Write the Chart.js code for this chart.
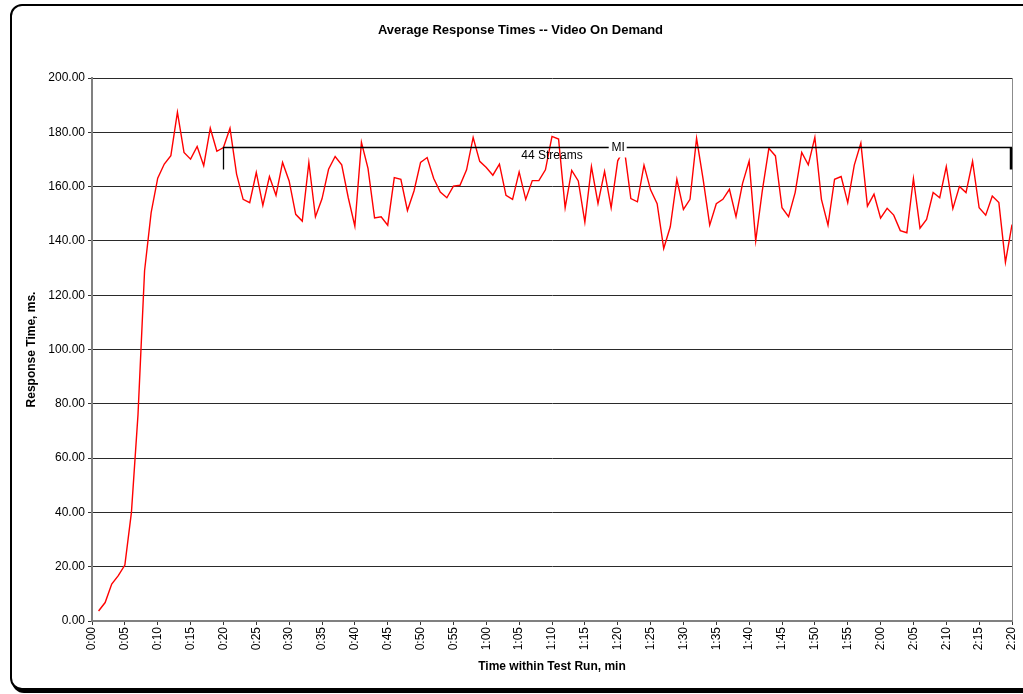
<!DOCTYPE html>
<html>
<head>
<meta charset="utf-8">
<title>Average Response Times -- Video On Demand</title>
<script src="https://cdn.jsdelivr.net/npm/chart.js@4.4.1/dist/chart.umd.min.js"></script>
<style>
  html, body { margin: 0; padding: 0; background: #fff; overflow: hidden; }
  #wrap { position: relative; width: 1023px; height: 694px; overflow: hidden; }
  .frame {
    position: absolute; left: 10px; top: 4px; width: 1030px; height: 686px;
    box-sizing: border-box; border: 2px solid #000; border-radius: 12px;
    box-shadow: 2px 3px 0 #000; background: #fff;
  }
  canvas { position: absolute; left: 0; top: 0; }
</style>
</head>
<body>
<div id="wrap">
  <div class="frame"></div>
  <canvas id="chart" width="1023" height="694"></canvas>
</div>
<script>
// Average response time per minute of the test run (ms), first sample at 0:01
const responseMs = [
  3.7, 6.8, 13.6, 16.7, 20.6, 40.0, 76.0, 129.0, 150.4, 163.1,
  168.3, 171.4, 187.4, 172.6, 170.1, 174.8, 167.7, 181.5, 173.0, 174.4,
  181.5, 164.6, 155.3, 154.1, 165.2, 153.1, 163.7, 156.8, 168.9, 162.1,
  149.8, 147.3, 168.9, 148.9, 155.5, 166.4, 171.1, 168.0, 155.9, 145.4,
  176.3, 166.7, 148.5, 148.9, 145.8, 163.3, 162.7, 151.2, 158.4, 168.9,
  170.7, 163.0, 158.0, 155.9, 160.2, 160.5, 166.2, 178.1, 169.3, 167.0,
  164.2, 168.3, 156.8, 155.3, 165.4, 155.3, 162.2, 162.2, 166.2, 178.5,
  177.5, 152.2, 166.0, 162.1, 146.9, 167.4, 153.8, 165.6, 152.2, 169.5,
  174.0, 155.6, 154.4, 167.9, 158.8, 153.7, 137.2, 145.2, 162.7, 151.6,
  155.3, 177.8, 162.7, 145.8, 153.7, 155.3, 159.0, 148.9, 161.2, 169.4,
  140.0, 158.4, 174.1, 171.3, 152.2, 148.9, 157.8, 172.6, 168.0, 178.1,
  155.3, 145.8, 162.7, 163.7, 154.1, 167.9, 176.0, 152.8, 157.2, 148.4,
  152.0, 149.5, 143.8, 143.0, 163.0, 144.7, 147.9, 157.8, 155.9, 167.4,
  151.9, 160.0, 157.8, 169.3, 152.2, 149.5, 156.5, 154.1, 132.1, 146.0
];

// x-axis tick labels, one every 5 minutes
const timeTicks = [
  '0:00', '0:05', '0:10', '0:15', '0:20', '0:25', '0:30', '0:35', '0:40', '0:45',
  '0:50', '0:55', '1:00', '1:05', '1:10', '1:15', '1:20', '1:25', '1:30', '1:35',
  '1:40', '1:45', '1:50', '1:55', '2:00', '2:05', '2:10', '2:15', '2:20'
];

// "44 Streams" measurement interval bracket (minutes, ms)
const streamsWindow = [20, 140];
const bracketLevel = 174.6;
const bracketFoot = 166.3;

const TICK_STEP = 5;
const FONT = "'Liberation Sans', Arial, sans-serif";

Chart.defaults.font.family = FONT;
Chart.defaults.color = '#000';

// ── Bracket annotation drawn through the scales ──
const bracketPlugin = {
  id: 'bracket',
  afterDatasetsDraw(chart) {
    const { ctx, scales: { x, y } } = chart;
    const x0 = x.getPixelForValue(streamsWindow[0]);
    const x1 = x.getPixelForValue(streamsWindow[1]);
    const yTop = Math.round(y.getPixelForValue(bracketLevel)) + 0.5;
    const yFoot = y.getPixelForValue(bracketFoot);
    ctx.save();
    ctx.strokeStyle = '#000';
    ctx.lineWidth = 1.3;
    ctx.beginPath();
    ctx.moveTo(Math.round(x0) + 0.5, yFoot);
    ctx.lineTo(Math.round(x0) + 0.5, yTop);
    ctx.lineTo(x1, yTop);
    ctx.stroke();
    ctx.lineWidth = 2.5;
    ctx.beginPath();
    ctx.moveTo(x1 - 1, yTop);
    ctx.lineTo(x1 - 1, yFoot);
    ctx.stroke();

    // "MI" label sits in a white box on the bracket line
    const mx = x.getPixelForValue((streamsWindow[0] + streamsWindow[1]) / 2);
    ctx.font = `12px ${FONT}`;
    ctx.fillStyle = '#fff';
    ctx.fillRect(mx - 9, yTop - 9, 18, 19);
    ctx.fillStyle = '#000';
    ctx.textAlign = 'center';
    ctx.textBaseline = 'middle';
    ctx.fillText('MI', mx + 0.5, yTop + 0.5);

    ctx.fillText('44 Streams', x.getPixelForValue(70), y.getPixelForValue(171.3));
    ctx.restore();
  }
};

new Chart(document.getElementById('chart'), {
  type: 'line',
  data: {
    datasets: [{
      data: responseMs.map((v, i) => ({ x: i + 1, y: v })),
      borderColor: '#ff0000',
      borderWidth: 1.4,
      pointRadius: 0,
      tension: 0,
      fill: false,
    }],
  },
  options: {
    responsive: false,
    animation: false,
    devicePixelRatio: 1,
    layout: { padding: { left: 29, right: 11, top: 0, bottom: 0 } },
    plugins: {
      legend: { display: false },
      tooltip: { enabled: false },
      title: {
        display: true,
        text: 'Average Response Times -- Video On Demand',
        font: { size: 13, weight: 'bold' },
        padding: { top: 23, bottom: 39.4 },
      },
    },
    scales: {
      x: {
        type: 'linear',
        min: 0,
        max: 140,
        afterFit: s => { s.height = 73; s.paddingLeft = 0; s.paddingRight = 0; },
        ticks: {
          stepSize: TICK_STEP,
          autoSkip: false,
          maxRotation: 90,
          minRotation: 90,
          padding: 2,
          font: { size: 12 },
          callback: v => timeTicks[Math.round(v / TICK_STEP)],
        },
        grid: {
          drawOnChartArea: true,
          color: c => (c.tick && c.tick.value === 140 ? '#8c8c8c' : 'rgba(0,0,0,0)'),
          tickColor: '#333',
          tickLength: 4,
        },
        border: { display: true, color: '#808080', width: 2 },
        title: {
          display: true,
          text: 'Time within Test Run, min',
          font: { size: 12, weight: 'bold' },
          padding: { top: 0, bottom: 20 },
        },
      },
      y: {
        min: 0,
        max: 200,
        afterFit: s => { s.width = 63; },
        ticks: {
          stepSize: 20,
          padding: 3,
          font: { size: 12 },
          callback: v => v.toFixed(2),
        },
        grid: {
          color: '#2a2a2a',
          lineWidth: 1,
          tickColor: '#333',
          tickLength: 4,
        },
        border: { display: true, color: '#808080', width: 2 },
        title: {
          display: true,
          text: 'Response Time, ms.',
          font: { size: 12, weight: 'bold' },
          padding: { top: -4.2, bottom: 0 },
        },
      },
    },
  },
  plugins: [bracketPlugin],
});
</script>
</body>
</html>
